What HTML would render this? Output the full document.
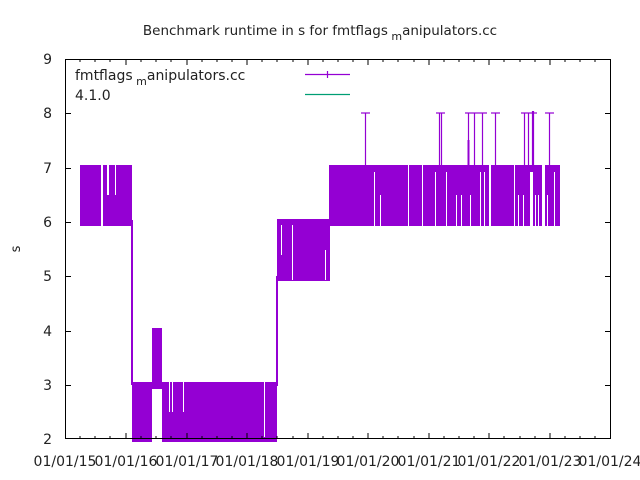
<!DOCTYPE html>
<html><head><meta charset="utf-8"><style>
html,body{margin:0;padding:0;background:#fff;}
svg{display:block;font-family:"DejaVu Sans","Liberation Sans",sans-serif;}
</style></head><body>
<svg width="640" height="480" viewBox="0 0 640 480" xmlns="http://www.w3.org/2000/svg">
<rect width="640" height="480" fill="#fff"/>
<text x="320" y="35" font-size="13.5" text-anchor="middle" fill="#222">Benchmark runtime in s for fmtflags<tspan font-size="11" dy="5"> m</tspan><tspan dy="-5">anipulators.cc</tspan></text>
<g fill="#9400d3">
<!-- 2015 -->
<rect x="80" y="165" width="21" height="61"/>
<rect x="103" y="165" width="4" height="61"/>
<rect x="109" y="165" width="6" height="61"/>
<rect x="103" y="195" width="13" height="31"/>
<rect x="116" y="165" width="16" height="61"/>
<rect x="131" y="220" width="2" height="165"/>
<!-- 2016-2018 -->
<rect x="132" y="382" width="20" height="60"/>
<rect x="152" y="328" width="10" height="61"/>
<rect x="152" y="382" width="10" height="7"/>
<rect x="162" y="382" width="8" height="60"/>
<rect x="170" y="382" width="107" height="60"/>
<rect x="276" y="276" width="2" height="110"/>
<!-- 2018-2019 -->
<rect x="277" y="219" width="53" height="62"/>
<!-- 2019-2023 -->
<rect x="329" y="165" width="231" height="61"/>
</g>
<g fill="#fff">
<rect x="101" y="165" width="2" height="30"/>
<rect x="107" y="165" width="2" height="30"/>
<rect x="115" y="165" width="1" height="30"/>
<rect x="152" y="389" width="10" height="53"/>
<rect x="169" y="382" width="1" height="30"/>
<rect x="172" y="382" width="1" height="30"/>
<rect x="183" y="382" width="1" height="30"/>
<rect x="264" y="382" width="1" height="55"/>
<rect x="281" y="225" width="1" height="30"/>
<rect x="292" y="225" width="1" height="55"/>
<rect x="325" y="250" width="1" height="30"/>
<rect x="374" y="172" width="1" height="54"/>
<rect x="380" y="195" width="1" height="31"/>
<rect x="408" y="165" width="1" height="61"/>
<rect x="422" y="165" width="1" height="61"/>
<rect x="435" y="172" width="1" height="54"/>
<rect x="446" y="172" width="1" height="54"/>
<rect x="456" y="195" width="1" height="31"/>
<rect x="461" y="195" width="1" height="31"/>
<rect x="470" y="195" width="1" height="31"/>
<rect x="480" y="172" width="1" height="54"/>
<rect x="484" y="172" width="1" height="54"/>
<rect x="489" y="165" width="2" height="61"/>
<rect x="514" y="165" width="1" height="61"/>
<rect x="518" y="195" width="1" height="31"/>
<rect x="523" y="195" width="1" height="31"/>
<rect x="530" y="172" width="3" height="54"/>
<rect x="535" y="195" width="1" height="31"/>
<rect x="538" y="195" width="1" height="31"/>
<rect x="542" y="165" width="3" height="61"/>
<rect x="547" y="195" width="1" height="31"/>
<rect x="554" y="172" width="1" height="54"/>
</g>
<g stroke="#9400d3" stroke-width="1.2">
<line x1="365.5" y1="113" x2="365.5" y2="170"/><line x1="361" y1="113" x2="370" y2="113"/>
<line x1="439.5" y1="113" x2="439.5" y2="170"/><line x1="441.5" y1="113" x2="441.5" y2="170"/><line x1="436" y1="113" x2="445" y2="113"/>
<line x1="468.5" y1="113" x2="468.5" y2="170"/><line x1="465" y1="113" x2="478" y2="113"/>
<line x1="474.5" y1="113" x2="474.5" y2="170"/>
<line x1="482.5" y1="113" x2="482.5" y2="170"/><line x1="478" y1="113" x2="487" y2="113"/>
<line x1="495.5" y1="113" x2="495.5" y2="170"/><line x1="491" y1="113" x2="500" y2="113"/>
<line x1="524.5" y1="113" x2="524.5" y2="170"/><line x1="528.5" y1="113" x2="528.5" y2="170"/><line x1="521" y1="113" x2="537" y2="113"/>
<line x1="532.5" y1="111" x2="532.5" y2="170"/><line x1="533.5" y1="111" x2="533.5" y2="170"/>
<line x1="549.5" y1="113" x2="549.5" y2="170"/><line x1="545" y1="113" x2="554" y2="113"/>
<line x1="468.5" y1="140" x2="468.5" y2="170" stroke-width="2"/>
</g>
<!-- axes -->
<rect x="65.5" y="59.5" width="545" height="379" fill="none" stroke="#000" stroke-width="1"/>
<g stroke="#000" stroke-width="1">
<line x1="65" y1="113.5" x2="71" y2="113.5"/><line x1="605" y1="113.5" x2="611" y2="113.5"/>
<line x1="65" y1="168.5" x2="71" y2="168.5"/><line x1="605" y1="168.5" x2="611" y2="168.5"/>
<line x1="65" y1="222.5" x2="71" y2="222.5"/><line x1="605" y1="222.5" x2="611" y2="222.5"/>
<line x1="65" y1="276.5" x2="71" y2="276.5"/><line x1="605" y1="276.5" x2="611" y2="276.5"/>
<line x1="65" y1="331.5" x2="71" y2="331.5"/><line x1="605" y1="331.5" x2="611" y2="331.5"/>
<line x1="65" y1="385.5" x2="71" y2="385.5"/><line x1="605" y1="385.5" x2="611" y2="385.5"/>
</g>
<g stroke="#000" stroke-width="1" id="xt">
<path d="M126 439v-6M187 439v-6M247 439v-6M308 439v-6M368 439v-6M429 439v-6M489 439v-6M550 439v-6
M126 59v6M187 59v6M247 59v6M308 59v6M368 59v6M429 59v6M489 59v6M550 59v6
M80 439v-3M95 439v-3M110 439v-3M141 439v-3M156 439v-3M171 439v-3M202 439v-3M217 439v-3M232 439v-3M262 439v-3M277 439v-3M293 439v-3M323 439v-3M338 439v-3M353 439v-3M383 439v-3M398 439v-3M414 439v-3M444 439v-3M459 439v-3M474 439v-3M504 439v-3M520 439v-3M535 439v-3M565 439v-3M580 439v-3M595 439v-3
M80 59v3M95 59v3M110 59v3M141 59v3M156 59v3M171 59v3M202 59v3M217 59v3M232 59v3M262 59v3M277 59v3M293 59v3M323 59v3M338 59v3M353 59v3M383 59v3M398 59v3M414 59v3M444 59v3M459 59v3M474 59v3M504 59v3M520 59v3M535 59v3M565 59v3M580 59v3M595 59v3"/>
</g>
<g font-size="14" fill="#222" text-anchor="end">
<text x="52" y="64">9</text><text x="52" y="118">8</text><text x="52" y="173">7</text><text x="52" y="227">6</text>
<text x="52" y="281">5</text><text x="52" y="336">4</text><text x="52" y="390">3</text><text x="52" y="444">2</text>
</g>
<g font-size="14" fill="#222" text-anchor="middle">
<text x="65" y="466">01/01/15</text><text x="126" y="466">01/01/16</text><text x="187" y="466">01/01/17</text>
<text x="247" y="466">01/01/18</text><text x="308" y="466">01/01/19</text><text x="368" y="466">01/01/20</text>
<text x="429" y="466">01/01/21</text><text x="489" y="466">01/01/22</text><text x="550" y="466">01/01/23</text>
<text x="610" y="466">01/01/24</text>
</g>
<text x="20" y="249" font-size="13" fill="#222" text-anchor="middle" transform="rotate(-90 20 249)">s</text>
<text x="75" y="80" font-size="14" fill="#222">fmtflags<tspan font-size="11" dy="5"> m</tspan><tspan dy="-5">anipulators.cc</tspan></text>
<text x="75" y="100" font-size="14" fill="#222">4.1.0</text>
<line x1="305" y1="74.5" x2="350" y2="74.5" stroke="#9400d3" stroke-width="1.2"/>
<line x1="327.5" y1="71" x2="327.5" y2="78" stroke="#9400d3" stroke-width="1.2"/>
<line x1="305" y1="94.5" x2="350" y2="94.5" stroke="#009e73" stroke-width="1.2"/>
</svg>
</body></html>
